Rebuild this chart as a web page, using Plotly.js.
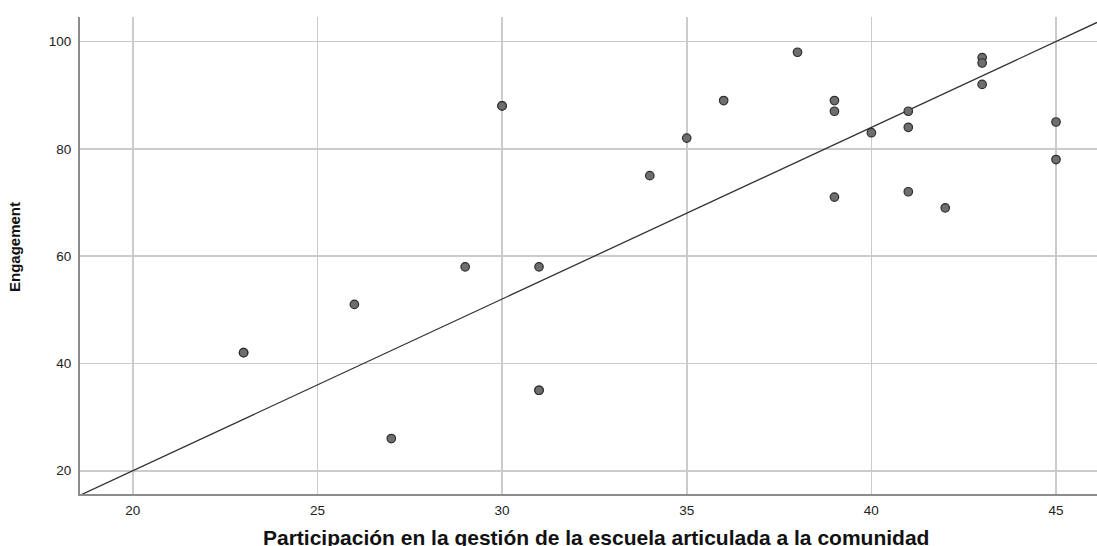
<!DOCTYPE html>
<html>
<head>
<meta charset="utf-8">
<script src="https://cdn.plot.ly/plotly-3.0.1.min.js"></script>
<style>
  html, body { margin: 0; padding: 0; background: #fff; }
  #chart { width: 1097px; height: 546px; }
</style>
</head>
<body>
<div id="chart"></div>
<script>
// Participation score (x) and engagement score (y) for each respondent
const participacion = [23, 23, 26, 27, 29, 30, 30, 31, 31, 31, 34, 35, 36, 38, 39, 39, 39, 40, 41, 41, 41, 42, 43, 43, 43, 45, 45];
const engagement    = [42, 42, 51, 26, 58, 88, 88, 58, 35, 35, 75, 82, 89, 98, 89, 87, 71, 83, 87, 84, 72, 69, 97, 96, 92, 85, 78];

// Fitted line: engagement = intercept + slope * participacion
const fitIntercept = -44;
const fitSlope = 3.2;

// Axis extents and tick values
const xRange = [18.57, 46.11];
const yRange = [15.66, 104.57];
const xTicks = [20, 25, 30, 35, 40, 45];
const yTicks = [20, 40, 60, 80, 100];

const fitX = [xRange[0], xRange[1]];
const fitY = fitX.map(v => fitIntercept + fitSlope * v);

const font = 'Liberation Sans, Arial, Helvetica, sans-serif';

const traces = [
  {
    type: 'scatter',
    mode: 'lines',
    x: fitX,
    y: fitY,
    line: { color: '#333333', width: 1.3 },
    hoverinfo: 'skip',
    cliponaxis: true
  },
  {
    type: 'scatter',
    mode: 'markers',
    x: participacion,
    y: engagement,
    marker: {
      symbol: 'circle',
      size: 8.5,
      color: '#6e6e6e',
      line: { color: '#2e2e2e', width: 1.2 }
    },
    cliponaxis: false
  }
];

const layout = {
  width: 1097,
  height: 546,
  margin: { l: 80, r: 0, t: 17, b: 52 },
  paper_bgcolor: '#ffffff',
  plot_bgcolor: '#ffffff',
  showlegend: false,
  font: { family: font, color: '#222222', size: 13 },
  xaxis: {
    range: xRange,
    tickmode: 'array',
    tickvals: xTicks,
    ticktext: xTicks.map(String),
    showgrid: true,
    gridcolor: '#cbcbcb',
    gridwidth: 1.6,
    zeroline: false,
    showline: true,
    linecolor: '#8c8c8c',
    linewidth: 2,
    ticks: '',
    ticklabelstandoff: 3,
    tickfont: { family: font, size: 13.5, color: '#222222' },
    automargin: false
  },
  yaxis: {
    range: yRange,
    tickmode: 'array',
    tickvals: yTicks,
    ticktext: yTicks.map(String),
    showgrid: true,
    gridcolor: '#cbcbcb',
    gridwidth: 1.6,
    zeroline: false,
    showline: true,
    linecolor: '#8c8c8c',
    linewidth: 2,
    ticks: '',
    ticklabelstandoff: 4,
    tickfont: { family: font, size: 13.5, color: '#222222' },
    automargin: false
  },
  annotations: [
    {
      text: '<b>Participación en la gestión de la escuela articulada a la comunidad</b>',
      xref: 'paper', yref: 'paper',
      x: 0.5, y: 0,
      xanchor: 'center', yanchor: 'top',
      xshift: 7,
      yshift: -30,
      showarrow: false,
      font: { family: font, size: 21, color: '#111111' }
    },
    {
      text: '<b>Engagement</b>',
      xref: 'paper', yref: 'paper',
      x: 0, y: 0.5,
      xanchor: 'right', yanchor: 'middle',
      xshift: -55,
      yshift: 8,
      textangle: -90,
      showarrow: false,
      font: { family: font, size: 15, color: '#111111' }
    }
  ]
};

Plotly.newPlot('chart', traces, layout, { displayModeBar: false, staticPlot: true });
</script>
</body>
</html>
